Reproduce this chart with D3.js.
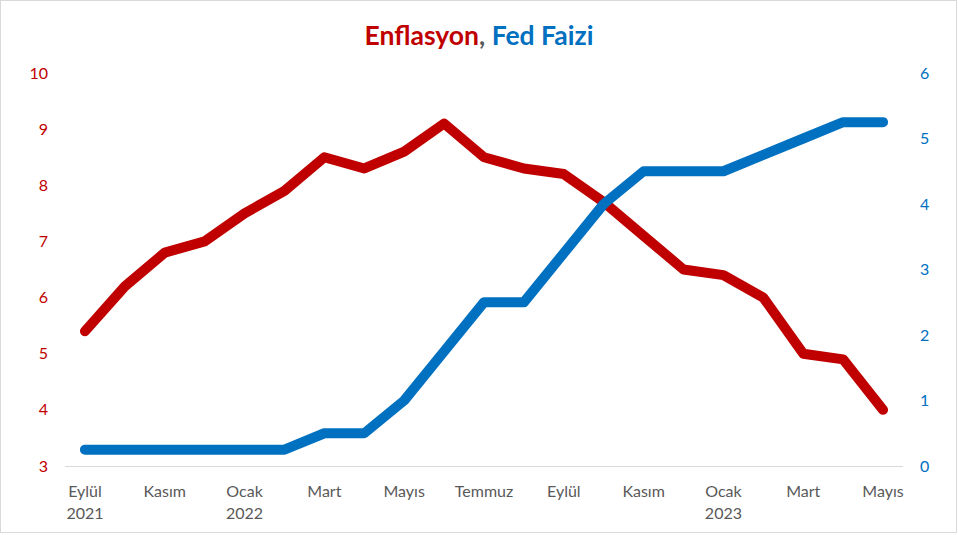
<!DOCTYPE html>
<html><head><meta charset="utf-8">
<script src="https://cdn.jsdelivr.net/npm/d3@7"></script>
<style>body{margin:0;background:#fff}svg{display:block}</style>
</head><body>
<svg id="c" width="958" height="535"></svg>
<script>
const months = ["2021-09","2021-10","2021-11","2021-12","2022-01","2022-02","2022-03","2022-04","2022-05","2022-06","2022-07","2022-08","2022-09","2022-10","2022-11","2022-12","2023-01","2023-02","2023-03","2023-04","2023-05"];
const inflation = [5.4,6.2,6.8,7.0,7.5,7.9,8.5,8.3,8.6,9.1,8.5,8.3,8.2,7.7,7.1,6.5,6.4,6.0,5.0,4.9,4.0];
const fedRate = [0.25,0.25,0.25,0.25,0.25,0.25,0.5,0.5,1.0,1.75,2.5,2.5,3.25,4.0,4.5,4.5,4.5,4.75,5.0,5.25,5.25];
const tickLabels = {"2021-09":["Eylül","2021"],"2021-11":["Kasım"],"2022-01":["Ocak","2022"],"2022-03":["Mart"],"2022-05":["Mayıs"],"2022-07":["Temmuz"],"2022-09":["Eylül"],"2022-11":["Kasım"],"2023-01":["Ocak","2023"],"2023-03":["Mart"],"2023-05":["Mayıs"]};
const leftTicks = [3,4,5,6,7,8,9,10];
const rightTicks = [0,1,2,3,4,5,6];

const RED="#C00000", BLUE="#0070C0", GRAY="#595959";
const svg = d3.select("#c");
const font = "Lato, 'Open Sans', sans-serif";
svg.append("rect").attr("x",0.5).attr("y",0.5).attr("width",956).attr("height",532)
  .attr("fill","#fff").attr("stroke","#D9D9D9").attr("stroke-width",1);

const L=65, R=903, T=73, B=466;
const x = d3.scalePoint().domain(months).range([L,R]).padding(0.5);
const yL = d3.scaleLinear().domain([3,10]).range([B,T]);
const yR = d3.scaleLinear().domain([0,6]).range([B,T]);

svg.append("line").attr("x1",L).attr("x2",R).attr("y1",B+0.5).attr("y2",B+0.5)
  .attr("stroke","#D9D9D9").attr("stroke-width",1);

const ga = svg.append("g").attr("transform",`translate(${L-17},0)`)
  .call(d3.axisLeft(yL).tickValues(leftTicks).tickSize(0).tickPadding(0).tickFormat(d3.format("d")));
ga.select(".domain").remove();
ga.selectAll("text").attr("fill",RED).style("font-family",font).style("font-size","16px");

const gb = svg.append("g").attr("transform",`translate(${R+17},0)`)
  .call(d3.axisRight(yR).tickValues(rightTicks).tickSize(0).tickPadding(0).tickFormat(d3.format("d")));
gb.select(".domain").remove();
gb.selectAll("text").attr("fill",BLUE).style("font-family",font).style("font-size","16px");

const gx = svg.append("g");
Object.entries(tickLabels).forEach(([m,lines])=>{
  const t = gx.append("text").attr("x",x(m)).attr("y",497).attr("text-anchor","middle")
    .attr("fill",GRAY).style("font-family",font).style("font-size","16px");
  lines.forEach((s,i)=>t.append("tspan").attr("x",x(m)).attr("dy",i?22:0).text(s));
});

const lineL = d3.line().x((d,i)=>x(months[i])).y(d=>yL(d));
const lineR = d3.line().x((d,i)=>x(months[i])).y(d=>yR(d));
svg.append("path").datum(inflation).attr("d",lineL).attr("fill","none").attr("stroke",RED)
  .attr("stroke-width",10).attr("stroke-linejoin","round").attr("stroke-linecap","round");
svg.append("path").datum(fedRate).attr("d",lineR).attr("fill","none").attr("stroke",BLUE)
  .attr("stroke-width",10).attr("stroke-linejoin","round").attr("stroke-linecap","round");

const title = svg.append("text").attr("x",479).attr("y",45).attr("text-anchor","middle")
  .style("font-family",font).style("font-size","26.5px").style("font-weight","bold");
title.append("tspan").attr("fill",RED).text("Enflasyon");
title.append("tspan").attr("fill",GRAY).text(", ");
title.append("tspan").attr("fill",BLUE).text("Fed Faizi");
</script>
</body></html>
